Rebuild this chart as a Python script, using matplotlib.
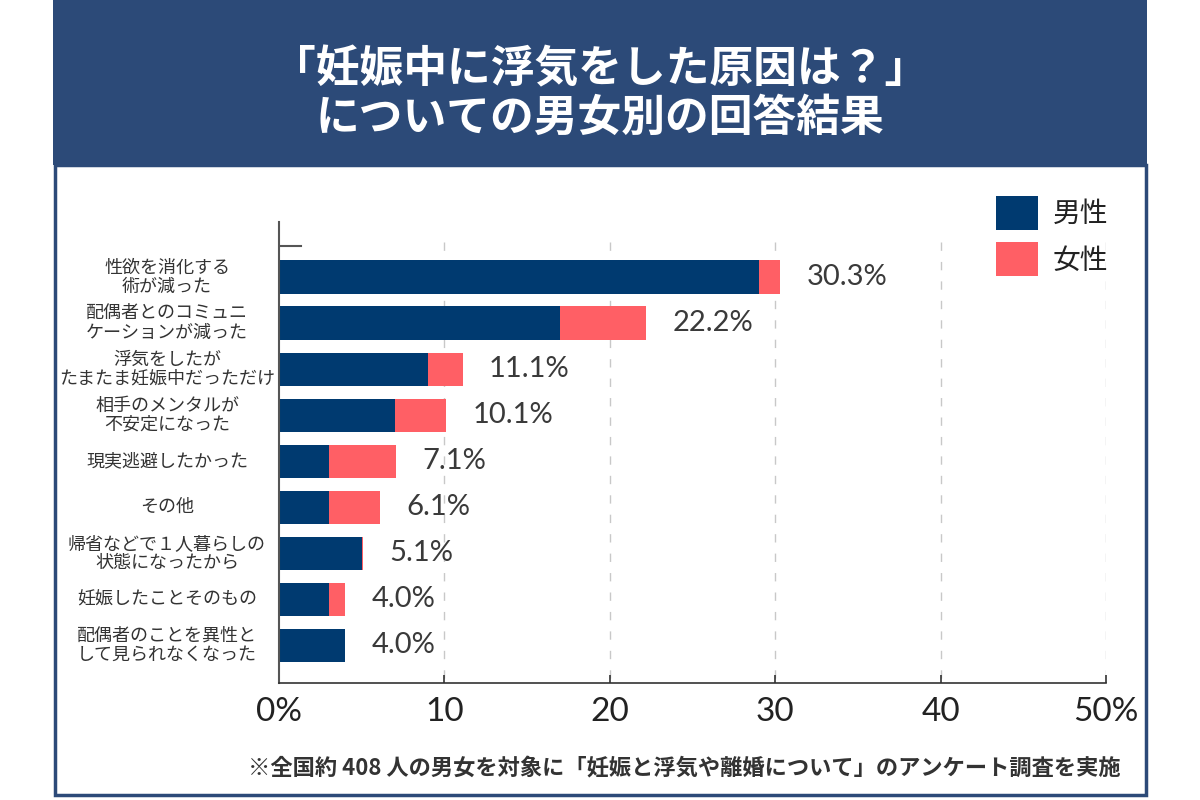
import matplotlib.pyplot as plt
import matplotlib.transforms as mtransforms
from matplotlib.patches import Rectangle, Patch

plt.rcParams['font.family'] = ['Noto Sans CJK JP', 'DejaVu Sans']

# data (percent of respondents)
categories = [
    '性欲を消化する\n術が減った',
    '配偶者とのコミュニ\nケーションが減った',
    '浮気をしたが\nたまたま妊娠中だっただけ',
    '相手のメンタルが\n不安定になった',
    '現実逃避したかった',
    'その他',
    '帰省などで１人暮らしの\n状態になったから',
    '妊娠したことそのもの',
    '配偶者のことを異性と\nして見られなくなった',
]
male = [29.0, 17.0, 9.0, 7.0, 3.0, 3.0, 5.0, 3.0, 4.0]
female = [1.3, 5.2, 2.1, 3.1, 4.1, 3.1, 0.1, 1.0, 0.0]
totals = [30.3, 22.2, 11.1, 10.1, 7.1, 6.1, 5.1, 4.0, 4.0]
xticks = [0, 10, 20, 30, 40, 50]
xtick_labels = ['0%', '10', '20', '30', '40', '50%']

navy = '#003a70'
red = '#ff5f65'
banner = '#2c4a78'
num_font = ['Lato', 'Noto Sans CJK JP']

fig = plt.figure(figsize=(12, 8), dpi=100)
fig.patch.set_facecolor('white')

# header banner and panel border
fig.patches.append(Rectangle((53 / 1200, 1 - 165 / 800), 1094 / 1200, 165 / 800,
                             transform=fig.transFigure, facecolor=banner, edgecolor='none', zorder=0))
fig.patches.append(Rectangle((54.5 / 1200, 1 - 795 / 800), 1091 / 1200, 630 / 800,
                             transform=fig.transFigure, facecolor='none', edgecolor=banner,
                             linewidth=2.5, zorder=0))

fig.text(0.5, 1 - 69 / 800, '「妊娠中に浮気をした原因は？」', ha='center', va='center',
         fontsize=31.5, fontweight='bold', color='white')
fig.text(0.5, 1 - 118 / 800, 'についての男女別の回答結果', ha='center', va='center',
         fontsize=31.5, fontweight='bold', color='white')

ax = fig.add_axes([279 / 1200, 1 - 683 / 800, 827 / 1200, 461 / 800])
y = list(range(len(categories)))

# gridlines
ax.vlines(xticks[1:], -0.76, 8.815, colors='#c8c8c8', linestyles=(0, (6, 8)), linewidth=1, zorder=0)

ax.barh(y, male, height=0.72, color=navy, label='男性', zorder=2)
ax.barh(y, female, left=male, height=0.72, color=red, label='女性', zorder=2)

for i, t in enumerate(totals):
    ax.annotate(f'{t:.1f}%', (t, i), xytext=(19, 0), textcoords='offset points',
                va='center', ha='left', fontsize=21, color='#3a3a3a', family=num_font)

# category labels, centered left of the axis
trans = mtransforms.blended_transform_factory(fig.transFigure, ax.transData)
for i, c in enumerate(categories):
    ax.text(167 / 1200, i, c, transform=trans, ha='center', va='center',
            multialignment='center', fontsize=13, color='#333333', linespacing=1.1)

ax.set_xlim(0, 50)
ax.set_ylim(8.815, -1.194)
ax.set_yticks([])
ax.plot([0, 1.3], [-0.673, -0.673], color='#555555', linewidth=1.5)

ax.set_xticks(xticks)
ax.set_xticklabels(xtick_labels, fontsize=24, color='#222222', family=num_font)
ax.tick_params(axis='x', direction='in', length=6, width=1.2, color='#333333', pad=10)

for s in ['top', 'right']:
    ax.spines[s].set_visible(False)
ax.spines['left'].set_color('#555555')
ax.spines['left'].set_linewidth(1.5)
ax.spines['bottom'].set_color('#333333')
ax.spines['bottom'].set_linewidth(1.2)

handles = [Patch(facecolor=navy, label='男性'), Patch(facecolor=red, label='女性')]
fig.legend(handles=handles, loc='upper left', bbox_to_anchor=(996 / 1200, 1 - 196 / 800),
           frameon=False, fontsize=20, handlelength=1.5, handleheight=1.5,
           handletextpad=0.55, labelspacing=0.45, borderpad=0, borderaxespad=0,
           labelcolor='#222222')

fig.text(684 / 1200, 1 - 768 / 800,
         '※全国約 408 人の男女を対象に「妊娠と浮気や離婚について」のアンケート調査を実施',
         ha='center', va='center', fontsize=16, fontweight='bold', color='#333333')

fig.savefig('out.png', dpi=100, facecolor='white')
